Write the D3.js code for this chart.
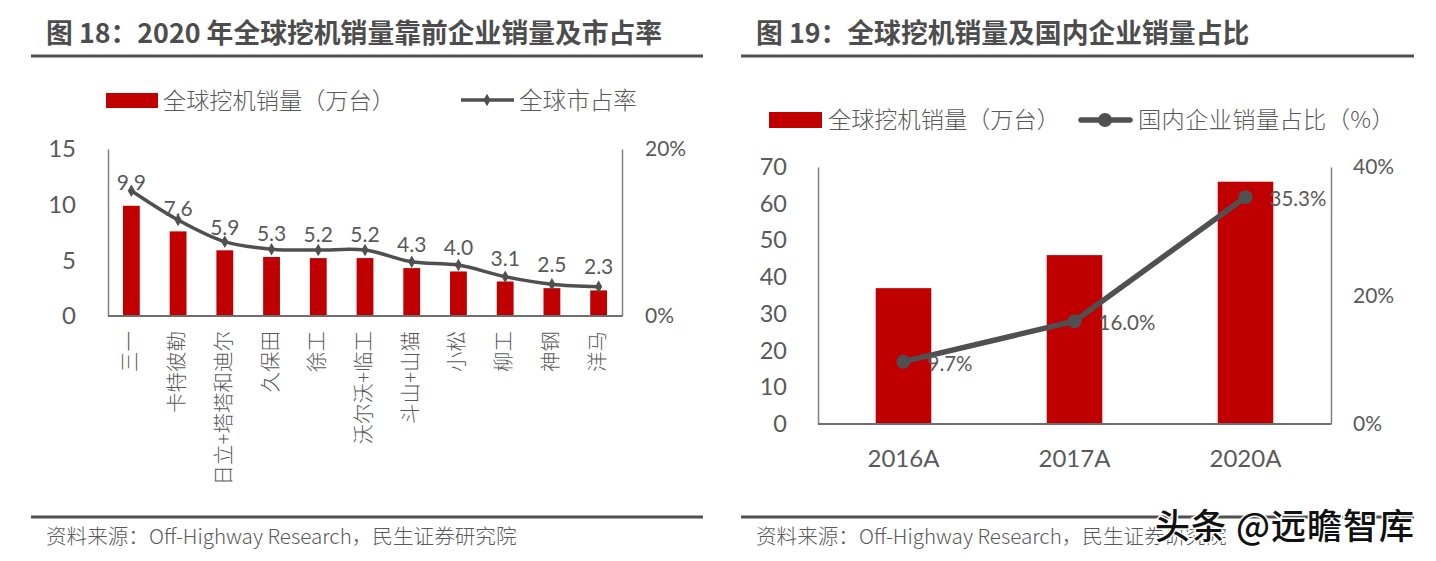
<!DOCTYPE html>
<html>
<head>
<meta charset="utf-8">
<script src="https://cdn.jsdelivr.net/npm/d3@7"></script>
<style>
  html, body { margin: 0; padding: 0; background: #fff; }
  svg { display: block; }
  text { fill: #595959; }
  .cjk { font-family: "Noto Sans CJK SC", sans-serif; }
  .num { font-family: Lato, "Noto Sans CJK SC", sans-serif; }
</style>
</head>
<body>
<svg class="my_svg"></svg>
<script>
const makers = ["三一", "卡特彼勒", "日立+塔塔和迪尔", "久保田", "徐工", "沃尔沃+临工", "斗山+山猫", "小松", "柳工", "神钢", "洋马"];
const makerSales = [9.9, 7.6, 5.9, 5.3, 5.2, 5.2, 4.3, 4.0, 3.1, 2.5, 2.3];
const makerShare = [15.0, 11.5, 8.9, 8.0, 7.9, 7.9, 6.5, 6.1, 4.7, 3.8, 3.5];
const salesTicks = [0, 5, 10, 15];
const shareTicks = [0, 20];

const years = ["2016A", "2017A", "2020A"];
const yearSales = [37, 46, 66];
const domesticShare = [9.7, 16.0, 35.3];
const yearTicks = [0, 10, 20, 30, 40, 50, 60, 70];
const domesticTicks = [0, 20, 40];

const red = "#C00000";
const gray = "#505050";

const svg = d3.select(".my_svg").attr("width", 1436).attr("height", 561);

const addText = (str, x, y, size, cls, opts = {}) =>
  svg.append("text")
    .attr("class", cls)
    .attr("x", x)
    .attr("y", y)
    .attr("dominant-baseline", "central")
    .attr("text-anchor", opts.anchor || "start")
    .attr("font-size", size)
    .attr("font-weight", opts.weight || 400)
    .text(str);

const addRule = (x1, x2, y) =>
  svg.append("line").attr("x1", x1).attr("x2", x2).attr("y1", y).attr("y2", y)
    .attr("stroke", gray).attr("stroke-width", 3);

// panel frame: title, top and bottom rule, source line
const drawFrame = (title, x1, x2) => {
  addText(title, x1 + 15, 31.5, 26.8, "cjk", { weight: 700 }).style("fill", "#4d4d4d");
  addRule(x1, x2, 56);
  addRule(x1, x2, 517);
  addText("资料来源：Off-Highway Research，民生证券研究院", x1 + 15, 534.5, 20.6, "cjk").style("font-weight", 300);
};

// two bordered y axes plus baseline, ticks without marks
const drawAxes = (g, yLeft, yRight, leftTicks, rightTicks, left, right, opts) => {
  const axisLeft = d3.axisLeft(yLeft).tickValues(leftTicks).tickSize(0).tickPadding(opts.leftPad);
  const axisRight = d3.axisRight(yRight).tickValues(rightTicks).tickSize(0).tickPadding(opts.rightPad)
    .tickFormat(d => d + "%");

  const gl = g.append("g").attr("transform", `translate(${left},0)`).call(axisLeft);
  gl.selectAll("text").attr("class", "num").attr("font-size", opts.leftSize);
  const gr = g.append("g").attr("transform", `translate(${right},0)`).call(axisRight);
  gr.selectAll("text").attr("class", "num").attr("font-size", opts.rightSize);
  g.selectAll(".domain").attr("stroke", "#7f7f7f").attr("stroke-width", 1.5);

  g.append("line").attr("x1", left).attr("x2", right)
    .attr("y1", yLeft(0)).attr("y2", yLeft(0))
    .attr("stroke", "#6e6e6e").attr("stroke-width", 2);
};

/* ---------- figure 18 ---------- */
drawFrame("图 18：2020 年全球挖机销量靠前企业销量及市占率", 31, 703);

const left1 = 108, right1 = 622, base1 = 316, top1 = 149;
const x1 = d3.scaleBand().domain(makers).range([left1, right1]).paddingInner(0.64).paddingOuter(0.32);
const y1 = d3.scaleLinear().domain([0, 15]).range([base1, top1]);
const yShare1 = d3.scaleLinear().domain([0, 20]).range([base1, top1]);
const mid1 = d => x1(d) + x1.bandwidth() / 2;

const g1 = svg.append("g");
g1.selectAll("rect").data(makers).join("rect")
  .attr("x", d => x1(d))
  .attr("width", x1.bandwidth())
  .attr("y", (d, i) => y1(makerSales[i]))
  .attr("height", (d, i) => base1 - y1(makerSales[i]))
  .attr("fill", red);

drawAxes(g1, y1, yShare1, salesTicks, shareTicks, left1, right1,
  { leftPad: 32, rightPad: 23, leftSize: 24, rightSize: 21 });

const line1 = d3.line().x(d => mid1(d)).y((d, i) => yShare1(makerShare[i])).curve(d3.curveCatmullRom.alpha(0.5));
g1.append("path").attr("d", line1(makers)).attr("fill", "none").attr("stroke", gray).attr("stroke-width", 3.5);

g1.selectAll(".dot").data(makers).join("path")
  .attr("class", "dot")
  .attr("transform", (d, i) => `translate(${mid1(d)},${yShare1(makerShare[i])})`)
  .attr("d", d3.symbol(d3.symbolDiamond, 45))
  .attr("fill", gray);

// labels sit further above the line as the share falls, first one almost touches it
const labelGap = d3.scaleLinear().domain([15, 3.5]).range([9, 21]);
g1.selectAll(".val").data(makers).join("text")
  .attr("class", "val num")
  .attr("x", d => mid1(d))
  .attr("y", (d, i) => yShare1(makerShare[i]) - labelGap(makerShare[i]))
  .attr("text-anchor", "middle")
  .attr("dominant-baseline", "central")
  .attr("font-size", 21)
  .text((d, i) => makerSales[i].toFixed(1));

const cat1 = d3.axisBottom(x1).tickSize(0).tickPadding(0);
const catG = g1.append("g").attr("transform", `translate(0,${base1})`).call(cat1);
catG.select(".domain").remove();
catG.selectAll("text")
  .attr("class", "cjk")
  .attr("font-size", 20.5)
  .attr("font-weight", 300)
  .attr("text-anchor", "end")
  .attr("dy", 0)
  .attr("transform", "translate(-3,15) rotate(-90)")
  .attr("x", 0).attr("y", 0)
  .attr("dominant-baseline", "central");

svg.append("rect").attr("x", 106).attr("y", 93).attr("width", 52).attr("height", 15).attr("fill", red);
addText("全球挖机销量（万台）", 163, 98.5, 23.2, "cjk", { weight: 300 });
svg.append("line").attr("x1", 461).attr("x2", 514).attr("y1", 100).attr("y2", 100)
  .attr("stroke", gray).attr("stroke-width", 3.5);
svg.append("path").attr("transform", "translate(487,100)").attr("d", d3.symbol(d3.symbolDiamond, 45)).attr("fill", gray);
addText("全球市占率", 519, 98.5, 23.6, "cjk", { weight: 300 });

/* ---------- figure 19 ---------- */
drawFrame("图 19：全球挖机销量及国内企业销量占比", 741, 1414);

const left2 = 818, right2 = 1331, base2 = 424, top2 = 167;
const x2 = d3.scaleBand().domain(years).range([left2, right2]).paddingInner(0.675).paddingOuter(0.3375);
const y2 = d3.scaleLinear().domain([0, 70]).range([base2, top2]);
const yShare2 = d3.scaleLinear().domain([0, 40]).range([base2, top2]);
const mid2 = d => x2(d) + x2.bandwidth() / 2;

const g2 = svg.append("g");
g2.selectAll("rect").data(years).join("rect")
  .attr("x", d => x2(d))
  .attr("width", x2.bandwidth())
  .attr("y", (d, i) => y2(yearSales[i]))
  .attr("height", (d, i) => base2 - y2(yearSales[i]))
  .attr("fill", red);

drawAxes(g2, y2, yShare2, yearTicks, domesticTicks, left2, right2,
  { leftPad: 31, rightPad: 22, leftSize: 23.5, rightSize: 21 });

const line2 = d3.line().x(d => mid2(d)).y((d, i) => yShare2(domesticShare[i]));
g2.append("path").attr("d", line2(years)).attr("fill", "none").attr("stroke", gray).attr("stroke-width", 5.5);

g2.selectAll(".dot").data(years).join("circle")
  .attr("class", "dot")
  .attr("cx", d => mid2(d))
  .attr("cy", (d, i) => yShare2(domesticShare[i]))
  .attr("r", 7)
  .attr("fill", gray);

g2.selectAll(".val").data(years).join("text")
  .attr("class", "val num")
  .attr("x", d => mid2(d) + 24)
  .attr("y", (d, i) => yShare2(domesticShare[i]))
  .attr("dy", 1)
  .attr("dominant-baseline", "central")
  .attr("font-size", 20.5)
  .text((d, i) => domesticShare[i].toFixed(1) + "%");

const cat2 = d3.axisBottom(x2).tickSize(0).tickPadding(26);
const catG2 = g2.append("g").attr("transform", `translate(0,${base2})`).call(cat2);
catG2.select(".domain").remove();
catG2.selectAll("text").attr("class", "num").attr("font-size", 24);

svg.append("rect").attr("x", 769).attr("y", 112).attr("width", 53).attr("height", 16).attr("fill", red);
addText("全球挖机销量（万台）", 828, 118, 23.2, "cjk", { weight: 300 });
svg.append("line").attr("x1", 1081).attr("x2", 1130).attr("y1", 120).attr("y2", 120)
  .attr("stroke", gray).attr("stroke-width", 5.5).attr("stroke-linecap", "round");
svg.append("circle").attr("cx", 1105).attr("cy", 120).attr("r", 7).attr("fill", gray);
addText("国内企业销量占比（%）", 1138, 118, 23.2, "cjk", { weight: 300 }).attr("letter-spacing", 0.4);

// watermark over the second source line
addText("头条 @远瞻智库", 1155, 523, 35, "cjk", { weight: 500 })
  .style("fill", "#111")
  .attr("stroke", "#fff")
  .attr("stroke-width", 3)
  .attr("paint-order", "stroke")
  .attr("letter-spacing", 1);
</script>
</body>
</html>
